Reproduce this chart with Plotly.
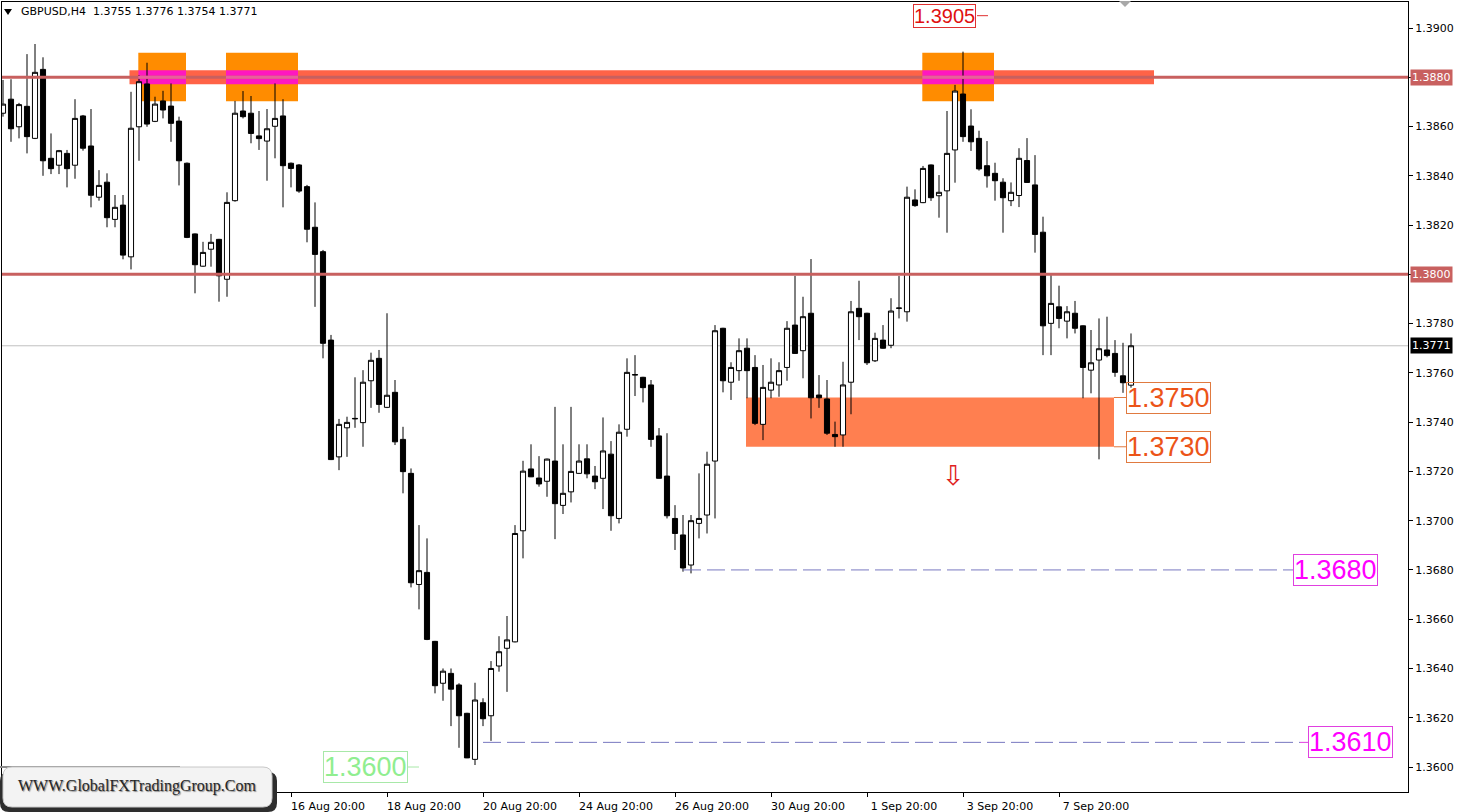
import plotly.graph_objects as go

# ---------------- data ----------------
symbol = "GBPUSD,H4"

opens = [
    1.38654, 1.38711, 1.38599, 1.38682, 1.38552, 1.38832, 1.38471, 1.38443, 1.38491, 1.38443,
    1.38643, 1.38521, 1.38313, 1.38374, 1.38223, 1.38281, 1.38071, 1.38599, 1.38773, 1.38621,
    1.38704, 1.38683, 1.38622, 1.38451, 1.38164, 1.38033, 1.38102, 1.38142, 1.37980, 1.38299,
    1.38663, 1.38654, 1.38562, 1.38541, 1.38601, 1.38643, 1.38451, 1.38444, 1.38356, 1.38191,
    1.38092, 1.37733, 1.37259, 1.37377, 1.37413, 1.37398, 1.37568, 1.37659, 1.37460, 1.37521,
    1.37330, 1.37192, 1.36741, 1.36790, 1.36510, 1.36340, 1.36380, 1.36333, 1.36218, 1.36031,
    1.36261, 1.36208, 1.36410, 1.36482, 1.36508, 1.36959, 1.37210, 1.37173, 1.37160, 1.37242,
    1.37062, 1.37117, 1.37192, 1.37251, 1.37181, 1.37172, 1.37270, 1.37009, 1.37371, 1.37591,
    1.37582, 1.37551, 1.37344, 1.37181, 1.37009, 1.36942, 1.36820, 1.36989, 1.37023, 1.37242,
    1.37781, 1.37562, 1.37609, 1.37700, 1.37622, 1.37391, 1.37530, 1.37551, 1.37622, 1.37794,
    1.37690, 1.37842, 1.37510, 1.37494, 1.37350, 1.37348, 1.37562, 1.37862, 1.37842, 1.37649,
    1.37733, 1.37712, 1.37862, 1.37848, 1.38302, 1.38291, 1.38444, 1.38319, 1.38339, 1.38505,
    1.38732, 1.38602, 1.38552, 1.38441, 1.38410, 1.38374, 1.38299, 1.38320, 1.38462, 1.38363,
    1.38171, 1.37801, 1.37868, 1.37810, 1.37842, 1.37791, 1.37611, 1.37652, 1.37693, 1.37679,
    1.37588, 1.37550,
]
highs = [
    1.38789, 1.38792, 1.38696, 1.38894, 1.38935, 1.38881, 1.38572, 1.38505, 1.38505, 1.38711,
    1.38647, 1.38671, 1.38423, 1.38410, 1.38322, 1.38322, 1.38741, 1.38809, 1.38859, 1.38721,
    1.38745, 1.38775, 1.38640, 1.38454, 1.38166, 1.38132, 1.38164, 1.38144, 1.38333, 1.38704,
    1.38744, 1.38724, 1.38663, 1.38671, 1.38775, 1.38711, 1.38454, 1.38448, 1.38363, 1.38292,
    1.38099, 1.37754, 1.37413, 1.37422, 1.37582, 1.37611, 1.37682, 1.37693, 1.37842, 1.37571,
    1.37381, 1.37212, 1.36982, 1.36928, 1.36512, 1.36400, 1.36400, 1.36340, 1.36220, 1.36342,
    1.36279, 1.36430, 1.36531, 1.36613, 1.36982, 1.37243, 1.37310, 1.37262, 1.37252, 1.37462,
    1.37310, 1.37462, 1.37310, 1.37310, 1.37222, 1.37419, 1.37323, 1.37391, 1.37659, 1.37672,
    1.37584, 1.37571, 1.37376, 1.37355, 1.37063, 1.37023, 1.37023, 1.37192, 1.37280, 1.37794,
    1.37783, 1.37643, 1.37740, 1.37740, 1.37672, 1.37632, 1.37659, 1.37643, 1.37810, 1.37994,
    1.37909, 1.38062, 1.37591, 1.37571, 1.37402, 1.37645, 1.37892, 1.37974, 1.37844, 1.37763,
    1.37794, 1.37903, 1.37993, 1.38356, 1.38345, 1.38440, 1.38446, 1.38403, 1.38663, 1.38769,
    1.38904, 1.38670, 1.38583, 1.38541, 1.38453, 1.38390, 1.38373, 1.38512, 1.38553, 1.38484,
    1.38234, 1.37997, 1.37954, 1.37871, 1.37892, 1.37793, 1.37774, 1.37821, 1.37828, 1.37733,
    1.37722, 1.37760,
]
lows = [
    1.38640, 1.38538, 1.38552, 1.38491, 1.38549, 1.38400, 1.38407, 1.38407, 1.38353, 1.38388,
    1.38502, 1.38272, 1.38299, 1.38191, 1.38191, 1.38061, 1.38020, 1.38461, 1.38599, 1.38618,
    1.38633, 1.38538, 1.38361, 1.38147, 1.37923, 1.38031, 1.38031, 1.37889, 1.37909, 1.38295,
    1.38633, 1.38532, 1.38505, 1.38380, 1.38471, 1.38272, 1.38353, 1.38331, 1.38130, 1.37868,
    1.37659, 1.37246, 1.37205, 1.37259, 1.37377, 1.37300, 1.37458, 1.37438, 1.37457, 1.37307,
    1.37111, 1.36729, 1.36640, 1.36515, 1.36299, 1.36269, 1.36166, 1.36078, 1.36036, 1.36008,
    1.36166, 1.36106, 1.36387, 1.36305, 1.36506, 1.36847, 1.37177, 1.37138, 1.37097, 1.36925,
    1.37027, 1.37074, 1.37190, 1.37172, 1.37128, 1.37047, 1.36959, 1.36989, 1.37341, 1.37506,
    1.37480, 1.37300, 1.37171, 1.37009, 1.36881, 1.36793, 1.36786, 1.36928, 1.36948, 1.37009,
    1.37521, 1.37490, 1.37568, 1.37497, 1.37388, 1.37327, 1.37497, 1.37503, 1.37568, 1.37677,
    1.37578, 1.37415, 1.37458, 1.37348, 1.37300, 1.37300, 1.37432, 1.37733, 1.37632, 1.37644,
    1.37698, 1.37700, 1.37821, 1.37808, 1.38274, 1.38289, 1.38298, 1.38230, 1.38169, 1.38372,
    1.38538, 1.38501, 1.38421, 1.38352, 1.38299, 1.38169, 1.38277, 1.38273, 1.38371, 1.38088,
    1.37672, 1.37672, 1.37781, 1.37740, 1.37760, 1.37497, 1.37517, 1.37249, 1.37663, 1.37584,
    1.37519, 1.37540,
]
closes = [
    1.38691, 1.38591, 1.38689, 1.38559, 1.38820, 1.38461, 1.38429, 1.38502, 1.38429, 1.38633,
    1.38512, 1.38321, 1.38361, 1.38230, 1.38272, 1.38078, 1.38593, 1.38782, 1.38610, 1.38691,
    1.38667, 1.38613, 1.38461, 1.38150, 1.38039, 1.38089, 1.38130, 1.37994, 1.38292, 1.38654,
    1.38640, 1.38572, 1.38551, 1.38591, 1.38633, 1.38441, 1.38430, 1.38338, 1.38183, 1.38081,
    1.37720, 1.37248, 1.37391, 1.37399, 1.37415, 1.37562, 1.37651, 1.37472, 1.37509, 1.37320,
    1.37199, 1.36748, 1.36797, 1.36518, 1.36330, 1.36389, 1.36316, 1.36208, 1.36037, 1.36272,
    1.36196, 1.36400, 1.36468, 1.36516, 1.36948, 1.37201, 1.37178, 1.37149, 1.37250, 1.37069,
    1.37111, 1.37200, 1.37242, 1.37190, 1.37158, 1.37283, 1.37020, 1.37359, 1.37602, 1.37593,
    1.37540, 1.37330, 1.37172, 1.37020, 1.36948, 1.36808, 1.37000, 1.37009, 1.37229, 1.37771,
    1.37568, 1.37622, 1.37690, 1.37609, 1.37395, 1.37541, 1.37562, 1.37609, 1.37781, 1.37679,
    1.37828, 1.37499, 1.37499, 1.37355, 1.37341, 1.37551, 1.37848, 1.37828, 1.37641, 1.37740,
    1.37700, 1.37851, 1.37863, 1.38313, 1.38279, 1.38430, 1.38311, 1.38333, 1.38491, 1.38744,
    1.38559, 1.38538, 1.38428, 1.38400, 1.38380, 1.38311, 1.38333, 1.38471, 1.38373, 1.38162,
    1.37791, 1.37882, 1.37821, 1.37848, 1.37781, 1.37622, 1.37641, 1.37698, 1.37670, 1.37602,
    1.37560, 1.37710,
]

# time-axis labels (bar index of each label, text)
time_tick_bars = [36, 48, 60, 72, 84, 96, 108, 120, 132]
time_tick_text = ["16 Aug 20:00", "18 Aug 20:00", "20 Aug 20:00", "24 Aug 20:00",
                  "26 Aug 20:00", "30 Aug 20:00", "1 Sep 20:00", "3 Sep 20:00", "7 Sep 20:00"]

price_ticks = [1.3600, 1.3620, 1.3640, 1.3660, 1.3680, 1.3700, 1.3720, 1.3740,
               1.3760, 1.3780, 1.3800, 1.3820, 1.3840, 1.3860, 1.3880, 1.3900]

# analysis levels
resistance_level = 1.3880
middle_level = 1.3800
zone_top = 1.3750
zone_bottom = 1.3730
target_1 = 1.3680
target_2 = 1.3610
high_label = 1.3905
low_label = 1.3600
arrow_level = 1.37185

bars = list(range(len(opens)))

# price-axis texts: the two marked levels carry their own coloured labels
marked_levels = (resistance_level, middle_level)
price_tick_text = ["" if any(abs(p - m) < 1e-9 for m in marked_levels) else f"{p:.4f}"
                   for p in price_ticks]

# ---------------- geometry helpers (pixels -> paper) ----------------
W, H = 1458, 812
ML, MR, MT, MB = 2, 50, 2, 20
PW, PH = W - ML - MR, H - MT - MB


def fx(px):
    return (px - ML) / PW


def fy(py):
    return (H - MB - py) / PH


def bar_at(px):
    return (px - 3) / 8.0


def rounded_path(x0, y0, x1, y1, r):
    pts = [
        f"M {fx(x0 + r)} {fy(y0)}",
        f"L {fx(x1 - r)} {fy(y0)}",
        f"Q {fx(x1)} {fy(y0)} {fx(x1)} {fy(y0 + r)}",
        f"L {fx(x1)} {fy(y1 - r)}",
        f"Q {fx(x1)} {fy(y1)} {fx(x1 - r)} {fy(y1)}",
        f"L {fx(x0 + r)} {fy(y1)}",
        f"Q {fx(x0)} {fy(y1)} {fx(x0)} {fy(y1 - r)}",
        f"L {fx(x0)} {fy(y0 + r)}",
        f"Q {fx(x0)} {fy(y0)} {fx(x0 + r)} {fy(y0)}",
        "Z",
    ]
    return " ".join(pts)


fig = go.Figure()

fig.add_trace(go.Candlestick(
    x=bars, open=opens, high=highs, low=lows, close=closes,
    increasing=dict(line=dict(color="black", width=1), fillcolor="white"),
    decreasing=dict(line=dict(color="black", width=1), fillcolor="black"),
    whiskerwidth=0, showlegend=False, hoverinfo="skip",
))

shapes = []
band_half = 0.00028
band_x0, band_x1 = bar_at(129.5), bar_at(1154)
# resistance band
shapes.append(dict(type="rect", xref="x", yref="y", x0=band_x0, x1=band_x1,
                   y0=resistance_level - band_half, y1=resistance_level + band_half,
                   fillcolor="#FF6347", line=dict(width=0), layer="below"))
# orange boxes around the touches
box_spans = [(138.3, 186), (226, 298), (922.3, 994)]
for a, b in box_spans:
    shapes.append(dict(type="rect", xref="x", yref="y", x0=bar_at(a), x1=bar_at(b),
                       y0=1.38703, y1=1.38900, fillcolor="#FF8C00",
                       line=dict(width=0), layer="below"))
    shapes.append(dict(type="rect", xref="x", yref="y", x0=bar_at(a), x1=bar_at(b),
                       y0=resistance_level - band_half, y1=resistance_level + band_half,
                       fillcolor="#FF18C0", line=dict(width=0), layer="below"))
# support zone
shapes.append(dict(type="rect", xref="x", yref="y", x0=bar_at(746), x1=bar_at(1114),
                   y0=zone_bottom, y1=zone_top, fillcolor="#FF7F50",
                   line=dict(width=0), layer="below"))
# horizontal red levels
for lv in (resistance_level, middle_level):
    shapes.append(dict(type="line", xref="paper", yref="y", x0=0, x1=1, y0=lv, y1=lv,
                       line=dict(color="#C8605F", width=3), layer="above"))
for a, b in box_spans:
    shapes.append(dict(type="line", xref="x", yref="y", x0=bar_at(a), x1=bar_at(b),
                       y0=resistance_level, y1=resistance_level,
                       line=dict(color="#E8609C", width=3), layer="above"))
# current price line
shapes.append(dict(type="line", xref="paper", yref="y", x0=0, x1=1,
                   y0=closes[-1], y1=closes[-1],
                   line=dict(color="#C0C0C0", width=1), layer="below"))
# dashed target lines
shapes.append(dict(type="line", xref="x", yref="y", x0=bar_at(683), x1=bar_at(1293),
                   y0=target_1, y1=target_1,
                   line=dict(color="#7878C0", width=1, dash="18px,6px"), layer="above"))
shapes.append(dict(type="line", xref="x", yref="y", x0=bar_at(483), x1=bar_at(1300),
                   y0=target_2, y1=target_2,
                   line=dict(color="#7878C0", width=1, dash="18px,6px"), layer="above"))
# short connectors
shapes.append(dict(type="line", xref="x", yref="y", x0=bar_at(1114), x1=bar_at(1126),
                   y0=zone_top, y1=zone_top, line=dict(color="#E07A40", width=1)))
shapes.append(dict(type="line", xref="x", yref="y", x0=bar_at(1114), x1=bar_at(1126),
                   y0=zone_bottom, y1=zone_bottom, line=dict(color="#E07A40", width=1)))
shapes.append(dict(type="line", xref="x", yref="y", x0=bar_at(977), x1=bar_at(988),
                   y0=high_label, y1=high_label, line=dict(color="#E03030", width=1)))
shapes.append(dict(type="line", xref="x", yref="y", x0=bar_at(408), x1=bar_at(419),
                   y0=low_label, y1=low_label, line=dict(color="#A8E8A8", width=1)))
shapes.append(dict(type="line", xref="x", yref="y", x0=bar_at(1300), x1=bar_at(1308),
                   y0=target_2, y1=target_2, line=dict(color="#E040E0", width=1)))

# watermark (bottom-left)
shapes.append(dict(type="line", xref="paper", yref="paper", x0=fx(0), x1=fx(180),
                   y0=fy(767), y1=fy(767), line=dict(color="#8C8C8C", width=2)))
shapes.append(dict(type="path", xref="paper", yref="paper",
                   path=rounded_path(0, 772, 277, 812, 9),
                   fillcolor="#2E2E2E", line=dict(width=0)))
shapes.append(dict(type="path", xref="paper", yref="paper",
                   path=rounded_path(3, 767, 272, 807, 9),
                   fillcolor="#F3F3F3", line=dict(color="#C8C8C8", width=1)))
# small triangles (header marker and chart-shift marker)
shapes.append(dict(type="path", xref="paper", yref="paper",
                   path=f"M {fx(4)} {fy(9)} L {fx(12)} {fy(9)} L {fx(8)} {fy(15)} Z",
                   fillcolor="black", line=dict(width=0)))
shapes.append(dict(type="path", xref="paper", yref="paper",
                   path=f"M {fx(1119)} {fy(1)} L {fx(1131)} {fy(1)} L {fx(1125)} {fy(7)} Z",
                   fillcolor="#A8A8A8", line=dict(width=0)))

annotations = []
# header
annotations.append(dict(
    xref="paper", yref="paper", x=fx(19), y=fy(12), xanchor="left", yanchor="middle",
    text=f"{symbol}  {opens[-1]:.4f} {highs[-1]:.4f} {lows[-1]:.4f} {closes[-1]:.4f}",
    showarrow=False, font=dict(family="DejaVu Sans", size=11, color="black")))
# right axis marker labels
for lv, bg in ((resistance_level, "#C8605F"), (middle_level, "#C8605F"), (closes[-1], "black")):
    annotations.append(dict(
        xref="paper", yref="y", x=1, xshift=2, y=lv, xanchor="left", yanchor="middle",
        text=f"{lv:.4f}", showarrow=False, bgcolor=bg, borderpad=1,
        font=dict(family="DejaVu Sans", size=11, color="white")))


def level_label(xpx, y, txt, color, border, size, anchor="left"):
    return dict(xref="x", yref="y", x=bar_at(xpx), y=y, xanchor=anchor, yanchor="middle",
                text=txt, showarrow=False, bordercolor=border, borderwidth=1, borderpad=0,
                font=dict(family="Liberation Sans", size=size, color=color))


annotations.append(level_label(1126, zone_top, f"{zone_top:.4f}", "#EC5418", "#E07A40", 27))
annotations.append(level_label(1126, zone_bottom, f"{zone_bottom:.4f}", "#EC5418", "#E07A40", 27))
annotations.append(level_label(1293, target_1, f"{target_1:.4f}", "#FF00FF", "#E040E0", 27))
annotations.append(level_label(1308, target_2, f"{target_2:.4f}", "#FF00FF", "#E040E0", 27))
annotations.append(level_label(913, high_label, f"{high_label:.4f}", "#E01010", "#E03030", 20))
annotations.append(level_label(323, low_label, f"{low_label:.4f}", "#90EE90", "#A8E8A8", 27))
# down arrow
annotations.append(dict(xref="x", yref="y", x=bar_at(953), y=arrow_level,
                        xanchor="center", yanchor="middle", text="\u21e9", showarrow=False,
                        font=dict(family="DejaVu Sans", size=27, color="#E02020")))
# watermark text
annotations.append(dict(xref="paper", yref="paper", x=fx(137), y=fy(786),
                        xanchor="center", yanchor="middle",
                        text="WWW.GlobalFXTradingGroup.Com", showarrow=False,
                        font=dict(family="Liberation Serif", size=16, color="#262626",
                                  shadow="1px 1px 1px #8a8a8a")))

fig.update_layout(
    width=W, height=H,
    margin=dict(l=ML, r=MR, t=MT, b=MB, pad=0, autoexpand=False),
    paper_bgcolor="white", plot_bgcolor="white",
    showlegend=False, hovermode=False,
    boxgap=0.36, boxgroupgap=0,
    shapes=shapes, annotations=annotations,
    xaxis=dict(
        range=[bar_at(2), bar_at(1408)], rangeslider=dict(visible=False),
        showgrid=False, zeroline=False, automargin=False,
        showline=True, linecolor="black", linewidth=1, mirror=True,
        tickmode="array", tickvals=time_tick_bars, ticktext=time_tick_text,
        ticks="outside", ticklen=4, tickcolor="black", ticklabelshift=37,
        tickfont=dict(family="DejaVu Sans", size=11, color="black"),
    ),
    yaxis=dict(
        range=[1.3589851, 1.3910555], side="right",
        showgrid=False, zeroline=False, automargin=False,
        showline=True, linecolor="black", linewidth=1, mirror=True,
        tickmode="array", tickvals=price_ticks, ticktext=price_tick_text,
        ticks="outside", ticklen=4, tickcolor="black",
        tickfont=dict(family="DejaVu Sans", size=11, color="black"),
    ),
)

fig.write_html(
    "out.html",
    config={"displayModeBar": False},
    post_script="document.body.style.margin='0';document.body.style.overflow='hidden';",
)
